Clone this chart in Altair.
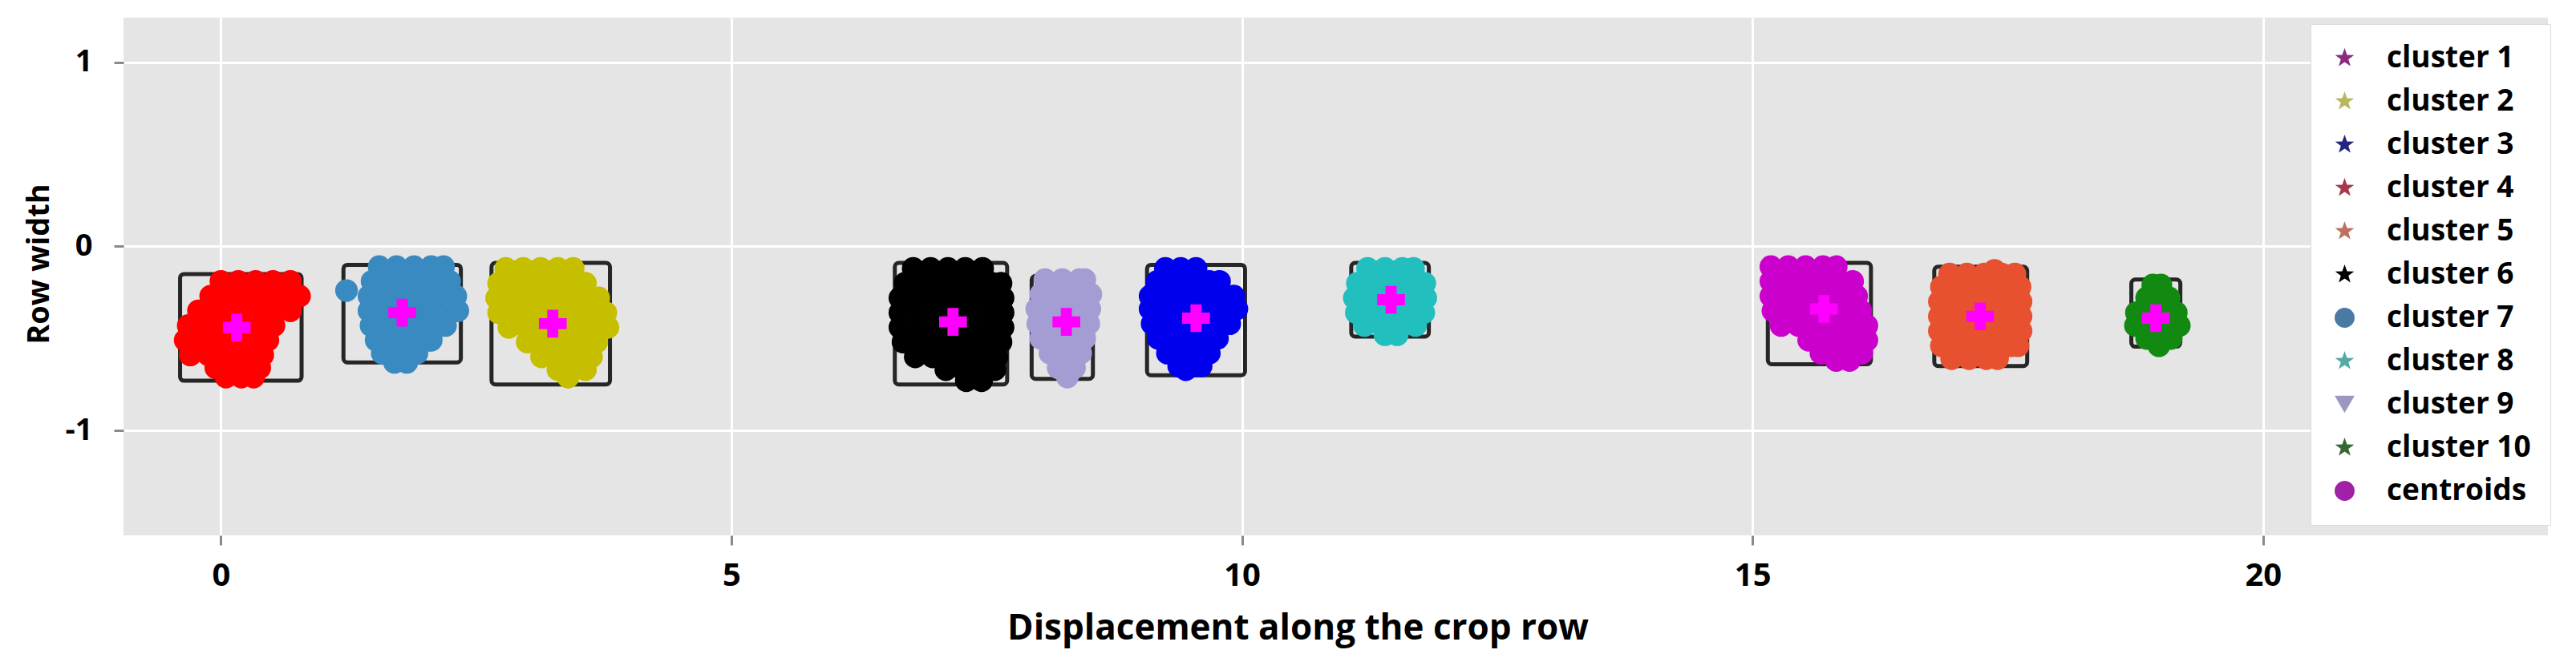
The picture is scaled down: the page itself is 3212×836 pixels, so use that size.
import altair as alt
import pandas as pd

cluster_names = ["cluster 1", "cluster 2", "cluster 3", "cluster 4", "cluster 5",
                 "cluster 6", "cluster 7", "cluster 8", "cluster 9", "cluster 10"]
legend_names = cluster_names + ["centroids"]

blob_colors = ["#cc00cc", "#c6bf00", "#0000ee", "#ff0000", "#e8512f",
               "#000000", "#3a8ac2", "#22bfbf", "#a39dd4", "#128a12"]
legend_colors = ["#8b2b7e", "#b8b860", "#242482", "#a63a4c", "#c0705e",
                 "#000000", "#4a7aa3", "#56aaa4", "#9b99c2", "#356835", "#a020a8"]
STAR = ("M0,-1L0.24,-0.33L0.95,-0.31L0.38,0.12L0.59,0.81L0,0.4L-0.59,0.81"
        "L-0.38,0.12L-0.95,-0.31L-0.24,-0.33Z")
legend_shapes = [STAR, STAR, STAR, STAR, STAR, STAR,
                 "circle", STAR, "triangle-down", STAR, "circle"]

centroid_x = [15.70, 3.25, 9.55, 0.155, 17.23, 7.17, 1.775, 11.46, 8.28, 18.95]
centroid_y = [-0.34, -0.42, -0.39, -0.44, -0.38, -0.41, -0.36, -0.29, -0.41, -0.39]

box_x1 = [15.15, 2.65, 9.07, -0.40, 16.78, 6.60, 1.20, 11.07, 7.94, 18.71]
box_x2 = [16.16, 3.81, 10.03, 0.79, 17.69, 7.70, 2.35, 11.83, 8.54, 19.19]
box_y1 = [-0.09, -0.09, -0.10, -0.15, -0.11, -0.09, -0.10, -0.09, -0.16, -0.18]
box_y2 = [-0.64, -0.75, -0.70, -0.73, -0.65, -0.75, -0.63, -0.49, -0.72, -0.545]

# scatter blobs: rows of (y, [x values])
cluster1_rows = [
    (-0.11, [15.18, 15.35, 15.52, 15.69, 15.82]),
    (-0.19, [15.18, 15.35, 15.52, 15.69, 15.86, 15.98]),
    (-0.27, [15.18, 15.35, 15.52, 15.69, 15.86, 16.02]),
    (-0.35, [15.20, 15.37, 15.54, 15.71, 15.88, 16.06]),
    (-0.43, [15.28, 15.45, 15.62, 15.79, 15.96, 16.12]),
    (-0.51, [15.55, 15.72, 15.89, 16.06, 16.12]),
    (-0.58, [15.67, 15.84, 16.01, 16.07]),
    (-0.62, [15.82, 15.95]),
]
cluster2_rows = [
    (-0.12, [2.79, 2.96, 3.13, 3.30, 3.45]),
    (-0.20, [2.72, 2.89, 3.06, 3.23, 3.40, 3.57]),
    (-0.28, [2.70, 2.87, 3.04, 3.21, 3.38, 3.55, 3.70]),
    (-0.36, [2.72, 2.89, 3.06, 3.23, 3.40, 3.57, 3.77]),
    (-0.44, [2.82, 2.99, 3.16, 3.33, 3.50, 3.67, 3.79]),
    (-0.52, [3.00, 3.17, 3.34, 3.51, 3.68]),
    (-0.60, [3.14, 3.31, 3.48, 3.63]),
    (-0.67, [3.30, 3.45, 3.57]),
    (-0.71, [3.40]),
]
cluster3_rows = [
    (-0.12, [9.25, 9.40, 9.55]),
    (-0.19, [9.17, 9.34, 9.51, 9.68, 9.78]),
    (-0.27, [9.10, 9.27, 9.44, 9.61, 9.78, 9.92]),
    (-0.34, [9.10, 9.27, 9.44, 9.61, 9.78, 9.95]),
    (-0.42, [9.12, 9.29, 9.46, 9.63, 9.80, 9.88]),
    (-0.50, [9.18, 9.35, 9.52, 9.69, 9.76]),
    (-0.58, [9.27, 9.44, 9.61, 9.68]),
    (-0.65, [9.38, 9.54, 9.60]),
    (-0.67, [9.45]),
]
cluster4_rows = [
    (-0.19, [0.00, 0.17, 0.34, 0.51, 0.68]),
    (-0.27, [-0.10, 0.08, 0.26, 0.44, 0.62, 0.77]),
    (-0.35, [-0.22, -0.04, 0.14, 0.32, 0.50, 0.68]),
    (-0.43, [-0.32, -0.14, 0.04, 0.22, 0.40, 0.52]),
    (-0.51, [-0.35, -0.17, 0.01, 0.19, 0.37, 0.46]),
    (-0.59, [-0.30, -0.12, 0.06, 0.24, 0.41]),
    (-0.66, [-0.05, 0.12, 0.29, 0.38]),
    (-0.71, [0.05, 0.20, 0.32]),
]
cluster5_rows = [
    (-0.13, [17.37]),
    (-0.15, [16.93, 17.10, 17.27, 17.44, 17.57]),
    (-0.22, [16.85, 17.02, 17.19, 17.36, 17.53, 17.62]),
    (-0.30, [16.83, 17.00, 17.17, 17.34, 17.51, 17.63]),
    (-0.38, [16.83, 17.00, 17.17, 17.34, 17.51, 17.63]),
    (-0.46, [16.83, 17.00, 17.17, 17.34, 17.51, 17.63]),
    (-0.54, [16.85, 17.02, 17.19, 17.36, 17.53, 17.60]),
    (-0.61, [16.95, 17.12, 17.29, 17.40]),
]
cluster6_rows = [
    (-0.12, [6.78, 6.95, 7.12, 7.29, 7.46]),
    (-0.20, [6.70, 6.87, 7.04, 7.21, 7.38, 7.55, 7.64]),
    (-0.28, [6.65, 6.82, 6.99, 7.16, 7.33, 7.50, 7.66]),
    (-0.36, [6.65, 6.82, 6.99, 7.16, 7.33, 7.50, 7.66]),
    (-0.44, [6.65, 6.82, 6.99, 7.16, 7.33, 7.50, 7.66]),
    (-0.52, [6.68, 6.85, 7.02, 7.19, 7.36, 7.53, 7.64]),
    (-0.60, [6.80, 6.97, 7.14, 7.31, 7.48, 7.60]),
    (-0.67, [7.10, 7.27, 7.44, 7.58]),
    (-0.73, [7.30, 7.45]),
]
cluster7_rows = [
    (-0.11, [1.55, 1.72, 1.89, 2.06, 2.18]),
    (-0.19, [1.48, 1.65, 1.82, 1.99, 2.16, 2.24]),
    (-0.24, [1.23]),
    (-0.27, [1.45, 1.62, 1.79, 1.96, 2.13, 2.30]),
    (-0.35, [1.45, 1.62, 1.79, 1.96, 2.13, 2.32]),
    (-0.43, [1.47, 1.64, 1.81, 1.98, 2.15, 2.20]),
    (-0.51, [1.52, 1.69, 1.86, 2.03, 2.06]),
    (-0.58, [1.58, 1.75, 1.92]),
    (-0.63, [1.70, 1.82]),
]
cluster8_rows = [
    (-0.12, [11.23, 11.40, 11.57, 11.68]),
    (-0.20, [11.13, 11.30, 11.47, 11.64, 11.79]),
    (-0.28, [11.10, 11.27, 11.44, 11.61, 11.80]),
    (-0.36, [11.12, 11.29, 11.46, 11.63, 11.78]),
    (-0.43, [11.20, 11.37, 11.54, 11.70]),
    (-0.48, [11.40, 11.52]),
]
cluster9_rows = [
    (-0.18, [8.07, 8.24, 8.41, 8.46]),
    (-0.26, [8.03, 8.20, 8.37, 8.52]),
    (-0.34, [7.99, 8.16, 8.33, 8.51]),
    (-0.42, [8.00, 8.17, 8.34, 8.50]),
    (-0.50, [8.03, 8.20, 8.37, 8.46]),
    (-0.58, [8.12, 8.28, 8.42]),
    (-0.66, [8.20, 8.36]),
    (-0.71, [8.29]),
]
cluster10_rows = [
    (-0.21, [18.92, 19.00]),
    (-0.28, [18.86, 19.00, 19.08]),
    (-0.36, [18.76, 18.92, 19.08, 19.15]),
    (-0.43, [18.75, 18.90, 19.05, 19.18]),
    (-0.50, [18.86, 19.00, 19.10]),
    (-0.54, [18.98]),
]
all_rows = [cluster1_rows, cluster2_rows, cluster3_rows, cluster4_rows, cluster5_rows,
            cluster6_rows, cluster7_rows, cluster8_rows, cluster9_rows, cluster10_rows]

blob_records = []
for name, rows in zip(cluster_names, all_rows):
    for yv, xs in rows:
        for xv in xs:
            blob_records.append({"cluster": name, "x": xv, "y": yv})
blob_df = pd.DataFrame(blob_records)

box_df = pd.DataFrame({"cluster": cluster_names, "x1": box_x1, "x2": box_x2,
                       "y1": box_y1, "y2": box_y2})
cent_df = pd.DataFrame({"cluster": cluster_names, "x": centroid_x, "y": centroid_y})
# legend entries anchored at the centroids (drawn first, hidden under the blobs)
legend_df = pd.DataFrame({"label": legend_names,
                          "x": centroid_x + [centroid_x[0]],
                          "y": centroid_y + [centroid_y[0]]})

FONT = "Open Sans"
xscale = alt.Scale(domain=[-0.954, 22.79], nice=False, zero=False)
yscale = alt.Scale(domain=[-1.57, 1.243], nice=False, zero=False)

xaxis = alt.Axis(values=[0, 5, 10, 15, 20], format="d", grid=True, gridColor="white",
                 gridWidth=3, domain=False, tickColor="#8a8a8a", tickSize=12, tickWidth=3,
                 labelFont=FONT, labelFontSize=40, labelFontWeight="bold", labelColor="black",
                 labelPadding=50, labelBaseline="alphabetic",
                 title="Displacement along the crop row", titleFont=FONT, titleFontSize=44,
                 titleFontWeight="bold", titleColor="black", titleX=1464, titleY=129,
                 titleBaseline="alphabetic", titleAlign="center")
yaxis = alt.Axis(values=[-1, 0, 1], grid=True, gridColor="white", gridWidth=3,
                 domain=False, tickColor="#8a8a8a", tickSize=12, tickWidth=3,
                 labelFont=FONT, labelFontSize=38, labelFontWeight="bold", labelColor="black",
                 labelPadding=27, labelExpr="'' + datum.value",
                 title="Row width", titleFont=FONT, titleFontSize=38,
                 titleFontWeight="bold", titleColor="black", titleX=-94, titleY=307,
                 titleBaseline="alphabetic", titleAlign="center", titleAngle=270)

leg = alt.Chart(legend_df).mark_point(filled=True, size=620, opacity=1).encode(
    x=alt.X("x:Q", scale=xscale, axis=xaxis),
    y=alt.Y("y:Q", scale=yscale, axis=yaxis),
    color=alt.Color("label:N", scale=alt.Scale(domain=legend_names, range=legend_colors),
                    legend=alt.Legend(title=None, orient="none", legendX=2727, legendY=8,
                                      padding=24, fillColor="white", strokeColor="#dcdcdc",
                                      labelFont=FONT, labelFontSize=37, labelFontWeight="bold",
                                      labelColor="black", labelOffset=34, rowPadding=16,
                                      symbolStrokeWidth=0, symbolSize=620, symbolOpacity=1,
                                      labelLimit=500)),
    shape=alt.Shape("label:N", scale=alt.Scale(domain=legend_names, range=legend_shapes)),
)

boxes = alt.Chart(box_df).mark_rect(fillOpacity=0, stroke="#262626", strokeWidth=5,
                                    cornerRadius=5).encode(
    x=alt.X("x1:Q", scale=xscale),
    x2="x2:Q",
    y=alt.Y("y1:Q", scale=yscale),
    y2="y2:Q",
)

blobs = alt.Chart(blob_df).mark_circle(size=800, opacity=1).encode(
    x=alt.X("x:Q", scale=xscale),
    y=alt.Y("y:Q", scale=yscale),
    fill=alt.Fill("cluster:N", scale=alt.Scale(domain=cluster_names, range=blob_colors),
                  legend=None),
)

cents = alt.Chart(cent_df).mark_point(shape="cross", filled=True, size=1200,
                                      color="#ff00ff", opacity=1).encode(
    x=alt.X("x:Q", scale=xscale),
    y=alt.Y("y:Q", scale=yscale),
)

chart = alt.layer(leg, boxes, blobs, cents).properties(
    width=3023, height=646,
    autosize=alt.AutoSizeParams(type="none"),
    padding={"left": 146, "top": 14, "right": 20, "bottom": 150},
).configure_view(fill="#e5e5e5", strokeWidth=0)

chart.save("out.html", embed_options={"renderer": "svg", "actions": False})
